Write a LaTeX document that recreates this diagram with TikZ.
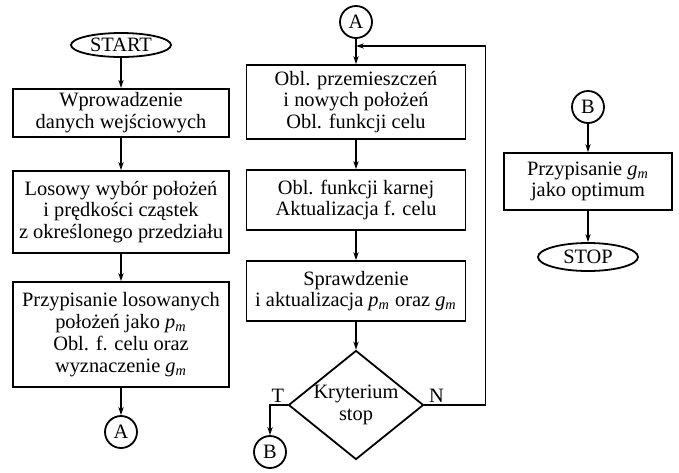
\documentclass[tikz,border=0pt]{standalone}
\usepackage{fontspec}
\setmainfont{Liberation Serif}
\usepackage{tikz}
\usetikzlibrary{arrows.meta,shapes.geometric,calc}
\newcommand{\pmv}{\textit{p}\textsubscript{\textit{m}}}
\newcommand{\gmv}{\textit{g}\textsubscript{\textit{m}}}
\tikzset{
  procbox/.style={draw, line width=0.9pt, inner sep=2pt, align=center},
  termnode/.style={draw, ellipse, line width=0.9pt, inner sep=0pt, minimum width=50pt},
  connnode/.style={draw, circle, line width=0.9pt, inner sep=0pt, minimum size=16pt},
  decnode/.style={draw, diamond, line width=0.9pt, inner sep=0pt, aspect=1.24,
    minimum width=67.5pt, minimum height=54.5pt, align=center},
  arr/.style={-{Stealth[length=4pt,width=2.6pt]}, line width=0.8pt},
}

\begin{document}
\begin{tikzpicture}[x=0.5pt,y=-0.5pt,font=\fontsize{10.2}{10.9}\selectfont]
  \useasboundingbox (0,0) rectangle (679,472);
  % lewa kolumna
  \node[termnode, minimum height=12pt] (start) at (121,45) {START};
  \node[procbox, minimum width=108pt, minimum height=24pt] (dane) at (121,113)
    {Wprowadzenie\\danych wejściowych};
  \node[procbox, minimum width=108pt, minimum height=41pt] (losowanie) at (121,212)
    {Losowy wybór położeń\\i prędkości cząstek\\z określonego przedziału};
  \node[procbox, minimum width=108pt, minimum height=52.5pt] (przypisanie) at (121,334.5)
    {Przypisanie losowanych\\położeń jako \pmv\\Obl. f. celu oraz\\wyznaczenie \gmv};
  \node[connnode] (aL) at (121,432) {A};
  \draw[arr] (start) -- (dane);
  \draw[arr] (dane) -- (losowanie);
  \draw[arr] (losowanie) -- (przypisanie);
  \draw[arr] (przypisanie) -- (aL);
  % srodkowa kolumna
  \node[connnode] (aT) at (356,22) {A};
  \node[procbox, minimum width=109.5pt, minimum height=37pt] (przem) at (356,102)
    {Obl. przemieszczeń\\i nowych położeń\\Obl. funkcji celu};
  \node[procbox, minimum width=109.5pt, minimum height=30pt] (kara) at (356,200)
    {Obl. funkcji karnej\\Aktualizacja f. celu};
  \node[procbox, minimum width=109.5pt, minimum height=30pt] (spr) at (356,291)
    {Sprawdzenie\\i aktualizacja \pmv{} oraz \gmv};
  \node[decnode] (kryt) at (356,405) {Kryterium\\stop};
  \node[connnode] (bL) at (270,452) {B};
  \coordinate (petla) at (356,46);
  \draw[arr] (aT) -- (przem);
  \draw[arr] (przem) -- (kara);
  \draw[arr] (kara) -- (spr);
  \draw[arr] (spr) -- (kryt);
  \draw[arr] (kryt.west) -- node[above, pos=0.55, inner sep=1pt] {T} (kryt.west -| bL) -- (bL);
  \draw[arr] (kryt.east) -- node[above, pos=0.2, inner sep=1pt] {N} ++(61,0) |- (petla);
  % prawa kolumna
  \node[connnode] (bR) at (588,107) {B};
  \node[procbox, minimum width=84pt, minimum height=28.5pt] (optimum) at (588,181.5)
    {Przypisanie \gmv\\jako optimum};
  \node[termnode, minimum height=14pt] (stop) at (588,257) {STOP};
  \draw[arr] (bR) -- (optimum);
  \draw[arr] (optimum) -- (stop);
\end{tikzpicture}
\end{document}
